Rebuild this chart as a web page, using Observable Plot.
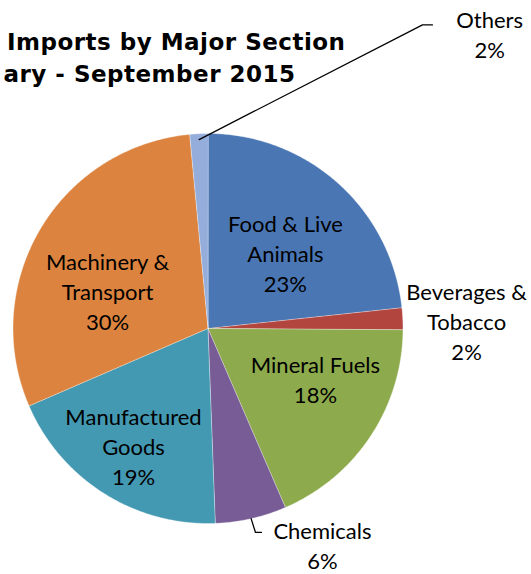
<!DOCTYPE html>
<html>
<head>
<meta charset="utf-8">
<script src="https://cdn.jsdelivr.net/npm/d3@7"></script>
<script src="https://cdn.jsdelivr.net/npm/@observablehq/plot@0.6"></script>
<style>
  html, body { margin: 0; padding: 0; background: #fff; }
  #chart svg { display: block; }
</style>
</head>
<body>
<div id="chart"></div>
<script>
// ---- data ----
const categories = ["Food & Live Animals", "Beverages & Tobacco", "Mineral Fuels", "Chemicals", "Manufactured Goods", "Machinery & Transport", "Others"];
const labelText = ["Food & Live\nAnimals", "Beverages &\nTobacco", "Mineral Fuels", "Chemicals", "Manufactured\nGoods", "Machinery &\nTransport", "Others"];
const shares = [23.3, 1.8, 18.4, 5.9, 19.1, 30.0, 1.5];
const sliceColors = ["#4A76B4", "#B3453F", "#8DAB4D", "#785C96", "#4499B2", "#DC843F", "#94ADDA"];
// title as visible in the (cropped) reference
const titleLines = ["Imports by Major Section", "ary - September 2015"];

// ---- layout (pie radius units, origin at pie centre) ----
const W = 531, H = 574, R = 195, CX = 207.5, CY = 328;
const labelPos = [[0.397, 0.39], [1.326, 0.041], [0.551, -0.256], [0.587, -1.108], [-0.382, -0.6], [-0.515, 0.195], [1.444, 1.513]];
const leaders = {
  "Others": {r: 0.97, pts: [[1.10, 1.557], [1.151, 1.557]]},
  "Chemicals": {r: 1.0, pts: [[0.2436, -1.046], [0.274, -1.046]]}
};
const titlePos = [[(345 - CX) / R, (328 - 42) / R], [(295 - CX) / R, (328 - 74) / R]];

// ---- derived ----
const total = d3.sum(shares);
let cum = 0;
const slices = categories.map((name, i) => {
  const a0 = cum / total * 2 * Math.PI;
  cum += shares[i];
  const a1 = cum / total * 2 * Math.PI;
  return {name, i, a0, a1, mid: (a0 + a1) / 2};
});
const polyPts = [];
for (const s of slices) {
  polyPts.push({name: s.name, x: 0, y: 0});
  const n = Math.max(2, Math.ceil((s.a1 - s.a0) / (Math.PI / 360)));
  for (let k = 0; k <= n; k++) {
    const a = s.a0 + (s.a1 - s.a0) * k / n;
    polyPts.push({name: s.name, x: Math.sin(a), y: Math.cos(a)});
  }
}
const labels = slices.map((s, i) => ({
  text: labelText[i] + "\n" + Math.round(shares[i]) + "%",
  x: labelPos[i][0], y: labelPos[i][1]
}));
const leaderPts = [];
for (const s of slices) {
  const L = leaders[s.name];
  if (!L) continue;
  leaderPts.push({name: s.name, x: L.r * Math.sin(s.mid), y: L.r * Math.cos(s.mid)});
  for (const p of L.pts) leaderPts.push({name: s.name, x: p[0], y: p[1]});
}
const titles = titleLines.map((t, i) => ({text: t, x: titlePos[i][0], y: titlePos[i][1]}));

const chart = Plot.plot({
  width: W, height: H, margin: 0,
  x: {domain: [-CX / R, (W - CX) / R], axis: null},
  y: {domain: [-(H - CY) / R, CY / R], axis: null},
  color: {domain: categories, range: sliceColors},
  marks: [
    Plot.line(polyPts, {x: "x", y: "y", z: "name", fill: "name", stroke: "white", strokeWidth: 0.6, strokeOpacity: 0.6, curve: "linear-closed"}),
    Plot.line(leaderPts, {x: "x", y: "y", z: "name", stroke: "black", strokeWidth: 1.3}),
    Plot.text(labels, {x: "x", y: "y", text: "text", fontFamily: "Lato", fontSize: 22, lineHeight: 1.36, lineAnchor: "middle", fill: "black"}),
    Plot.text(titles, {x: "x", y: "y", text: "text", textAnchor: "end", lineAnchor: "middle", fontFamily: "DejaVu Sans", fontWeight: "bold", fontSize: 23, fill: "black"})
  ]
});
document.getElementById("chart").appendChild(chart);
d3.select(chart).selectAll("text").filter(function() { return titleLines.includes(this.textContent); }).style("letter-spacing", "0.5px");
</script>
</body>
</html>
